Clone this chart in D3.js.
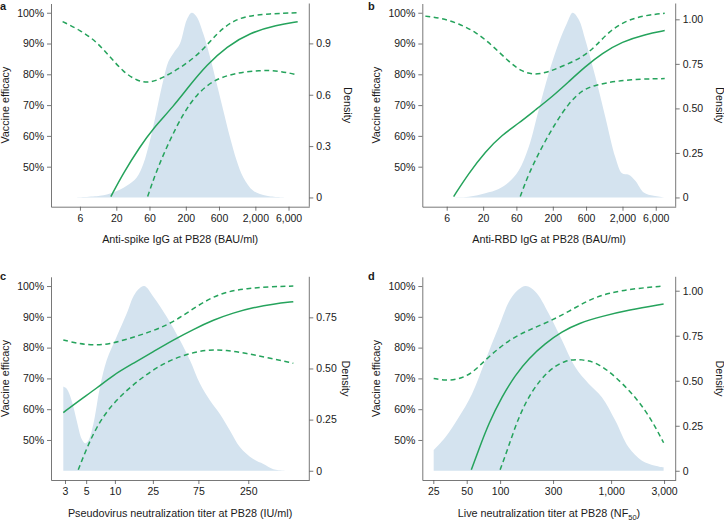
<!DOCTYPE html>
<html><head><meta charset="utf-8">
<script src="https://cdn.jsdelivr.net/npm/d3@7"></script>
<style>
body{margin:0;background:#fff}
text{font-family:"Liberation Sans",Arial,Helvetica,sans-serif;fill:#1a1a1a}
</style>
</head><body>
<svg id="chart" width="724" height="520"></svg>
<script>
// ---------- DATA ----------
// Panel a: anti-spike IgG (BAU/ml) ; efficacy in %
const spikeEst = [[16.7,40.3],[25.2,47.9],[43.8,56.5],[68,62.5],[132,69.5],[229,76.5],[399,83],[774,89],[1675,93.5],[4055,96],[8130,97.1]];
const spikeUpper = [[3.38,97.1],[6,94.4],[10.4,90.6],[16.2,85.7],[25.2,80.8],[39.2,77.9],[61,77.1],[94.8,79],[165,82],[320,86.8],[556,93.3],[964,97.6],[1870,99.5],[8130,100]];
const spikeLower = [[56.5,40.3],[76.2,48.9],[118,58.7],[184,67.3],[286,73.5],[497,78.1],[964,80.3],[2333,81.4],[4530,81.1],[8130,79.8]];
const spikeDensity = [[5.1,0],[11.6,0.01],[18.1,0.029],[28.2,0.068],[39.3,0.117],[48.9,0.195],[61,0.332],[76.2,0.508],[94.8,0.684],[112,0.792],[132,0.841],[165,0.899],[206,1.036],[243,1.079],[286,1.056],[356,0.958],[446,0.821],[556,0.665],[692,0.508],[863,0.352],[1079,0.215],[1343,0.117],[1871,0.039],[2911,0.01],[5649,0]];
const spikeTicks = [6,20,60,200,600,2000,6000];
const spikeDensityTicks = [0,0.3,0.6,0.9];

// Panel b: anti-RBD IgG (BAU/ml)
const rbdEst = [[7.55,40.3],[12.4,47.8],[21.5,54.9],[37.3,60.3],[64.8,64.1],[112,68.4],[195,72.7],[338,77.6],[585,82.5],[1016,86.8],[1968,90.6],[4256,93],[8070,94.2]];
const rbdUpper = [[2.96,98.9],[5.14,98.2],[8.9,96.5],[15.5,93.8],[26.8,89.5],[46.6,84.1],[72.3,80.8],[112,79.8],[175,80.8],[302,83],[525,85.5],[815,89],[1268,93.8],[2198,97.4],[4256,99.2],[8070,99.8]];
const rbdLower = [[68.2,40.3],[90.2,47.8],[140,56.5],[217,64.1],[338,70.6],[525,74.9],[815,76.5],[1578,77.8],[3820,78.5],[8070,78.6]];
const rbdDensity = [[3.9,0],[12.4,0.004],[21.5,0.023],[33.4,0.047],[46.6,0.085],[64.8,0.151],[90.2,0.283],[125,0.49],[175,0.698],[243,0.867],[320,0.98],[386,1.037],[471,0.999],[585,0.886],[815,0.679],[1133,0.452],[1578,0.226],[1968,0.136],[2455,0.128],[3055,0.094],[4036,0.028],[5610,0.009],[7800,0]];
const rbdTicks = [6,20,60,200,600,2000,6000];
const rbdDensityTicks = [0,0.25,0.5,0.75,1];

// Panel c: pseudovirus neutralization titer (IU/ml)
const pseudoEst = [[2.88,58.9],[4.31,63],[6.44,66.8],[9.6,71.1],[15.6,74.9],[25.3,78.7],[41,82.5],[66.4,85.9],[108,89],[174,91.3],[282,93],[458,94.2],[741,94.9]];
const pseudoUpper = [[2.88,82.5],[3.98,81.4],[5.95,80.7],[8.9,81.2],[13.3,82.7],[19.9,84.4],[29.7,86.3],[44.5,89],[66.4,92.7],[99.3,96],[149,98.2],[241,99.2],[423,99.8],[741,100]];
const pseudoLower = [[4.13,40.3],[5.06,47.3],[6.44,54.3],[8.9,60.8],[13.3,66.2],[19.9,70.6],[32.2,74.9],[52.1,77.6],[91.6,79.4],[149,79.2],[241,78.1],[390,76.8],[741,74.9]];
const pseudoDensity = [[2.88,0.412],[3.13,0.401],[3.52,0.344],[3.98,0.245],[4.49,0.155],[4.86,0.134],[5.26,0.147],[5.95,0.229],[6.98,0.409],[8.2,0.54],[10.4,0.654],[13.3,0.769],[16.3,0.867],[20.2,0.903],[25.3,0.851],[34.9,0.753],[48.1,0.638],[61.2,0.54],[78,0.425],[99.3,0.344],[126,0.278],[161,0.196],[205,0.115],[282,0.057],[360,0.033],[458,0.008],[741,0]];
const pseudoTicks = [3,5,10,25,75,250];
const pseudoDensityTicks = [0,0.25,0.5,0.75];

// Panel d: live neutralization titer (NF50)
const liveEst = [[55,40.3],[64.1,46.8],[78.9,55.4],[104,64.1],[137,71.1],[181,76.5],[255,81.4],[361,85.2],[510,87.9],[826,90.2],[1438,92.2],[2972,94.2]];
const liveUpper = [[25.2,70],[32.1,69.3],[42.4,69.7],[55.8,71.6],[73.6,76],[97.1,79.8],[128,83],[181,85.7],[274,88.4],[415,91.7],[628,95.5],[951,97.8],[1652,99.2],[2972,100]];
const liveLower = [[100,40.3],[119,47.8],[147,57.6],[194,66.2],[274,72.7],[386,76],[547,76.3],[773,74.9],[1091,70.6],[1542,65.2],[2032,59.7],[2500,54.3],[2972,49.1]];
const liveDensity = [[25.2,0.115],[32.1,0.186],[42.4,0.297],[55.8,0.427],[73.6,0.613],[97.1,0.799],[128,0.967],[169,1.026],[208,0.994],[274,0.874],[361,0.725],[475,0.576],[628,0.483],[826,0.409],[1091,0.279],[1438,0.13],[1897,0.056],[2500,0.028],[2972,0.019]];
const liveTicks = [25,50,100,300,1000,3000];
const liveDensityTicks = [0,0.25,0.5,0.75,1];

const efficacyTicks = [50,60,70,80,90,100];

// ---------- LAYOUT / STYLE ----------
const GREEN = "#25a35c";
const FILL = "#d4e3ef";
const AXIS = "#555";

const panels = [
  {letter:"a", est:spikeEst, up:spikeUpper, lo:spikeLower, dens:spikeDensity, ticks:spikeTicks, dTicks:spikeDensityTicks,
   dMax:1.079, dFmt:d=>d===0?"0":d3.format(".1f")(d), title:"Anti-spike IgG at PB28 (BAU/ml)",
   left:51, right:309.3, top:3.5, bottom:206.7, xDom:[2.30,11940], letterX:0, letterY:10, yLabX:9, dLabX:343.5},
  {letter:"b", est:rbdEst, up:rbdUpper, lo:rbdLower, dens:rbdDensity, ticks:rbdTicks, dTicks:rbdDensityTicks,
   dMax:1.037, dFmt:d=>d===0?"0":d3.format(".2f")(d), title:"Anti-RBD IgG at PB28 (BAU/ml)",
   left:422.3, right:675.7, top:3.5, bottom:206.7, xDom:[2.68,11600], letterX:368, letterY:10, yLabX:380, dLabX:715.5},
  {letter:"c", est:pseudoEst, up:pseudoUpper, lo:pseudoLower, dens:pseudoDensity, ticks:pseudoTicks, dTicks:pseudoDensityTicks,
   dMax:0.903, dFmt:d=>d===0?"0":d3.format(".2f")(d), title:"Pseudovirus neutralization titer at PB28 (IU/ml)",
   left:51, right:309.3, top:276.8, bottom:480, xDom:[2.14,1090], letterX:0, letterY:280, yLabX:9, dLabX:342},
  {letter:"d", est:liveEst, up:liveUpper, lo:liveLower, dens:liveDensity, ticks:liveTicks, dTicks:liveDensityTicks,
   dMax:1.026, dFmt:d=>d===0?"0":d3.format(".2f")(d), title:null,
   left:422.3, right:675.7, top:276.8, bottom:480, xDom:[19.9,3820], letterX:368, letterY:280, yLabX:380, dLabX:715.5}
];

const svg = d3.select("#chart");
const fmtComma = d3.format(",");

function styleAxis(g){
  g.selectAll("line").attr("stroke",AXIS).attr("stroke-width",0.8);
  g.selectAll("path.domain").attr("stroke",AXIS).attr("stroke-width",0.8);
  g.selectAll("text").attr("font-size","10.5px").style("fill","#1a1a1a")
    .attr("font-family",'"Liberation Sans",Arial,sans-serif');
}

panels.forEach(p=>{
  const x = d3.scaleLog().domain(p.xDom).range([p.left,p.right]);
  const y = d3.scaleLinear().domain([37,103]).range([p.bottom,p.top]);
  const yd = d3.scaleLinear().domain([0,p.dMax]).range([y(40),y(100)]);
  const g = svg.append("g");

  // density area
  g.append("path").datum(p.dens)
    .attr("fill",FILL)
    .attr("d", d3.area().curve(d3.curveCatmullRom.alpha(0.5))
      .x(d=>x(d[0])).y0(yd(0)).y1(d=>Math.min(yd(0), yd(d[1]))));

  const line = d3.line().curve(d3.curveBasis).x(d=>x(d[0])).y(d=>y(d[1]));
  [[p.up,true],[p.lo,true],[p.est,false]].forEach(([data,dash])=>{
    g.append("path").datum(data)
      .attr("fill","none").attr("stroke",GREEN).attr("stroke-width",1.5)
      .attr("stroke-dasharray",dash?"5,3.5":null)
      .attr("d",line);
  });

  // axes
  const ax = g.append("g").attr("transform",`translate(0,${p.bottom})`)
    .call(d3.axisBottom(x).tickValues(p.ticks).tickFormat(fmtComma).tickSize(4).tickSizeOuter(0).tickPadding(4));
  styleAxis(ax);
  const ay = g.append("g").attr("transform",`translate(${p.left},0)`)
    .call(d3.axisLeft(y).tickValues(efficacyTicks).tickFormat(d=>d+"%").tickSize(4).tickSizeOuter(0).tickPadding(3));
  styleAxis(ay);
  const ar = g.append("g").attr("transform",`translate(${p.right},0)`)
    .call(d3.axisRight(yd).tickValues(p.dTicks).tickFormat(p.dFmt).tickSize(4).tickSizeOuter(0).tickPadding(3));
  ar.select("path.domain").remove();
  styleAxis(ar);
  g.append("line").attr("x1",p.right).attr("x2",p.right).attr("y1",p.top).attr("y2",p.bottom)
    .attr("stroke",AXIS).attr("stroke-width",0.8);

  // labels
  const cy = (p.top+p.bottom)/2;
  g.append("text").attr("transform",`translate(${p.yLabX},${cy}) rotate(-90)`)
    .attr("text-anchor","middle").attr("font-size","10.8px").text("Vaccine efficacy");
  g.append("text").attr("transform",`translate(${p.dLabX},${cy}) rotate(90)`)
    .attr("text-anchor","middle").attr("font-size","10.8px").text("Density");
  const t = g.append("text").attr("x",(p.left+p.right)/2).attr("y",p.bottom+36.5)
    .attr("text-anchor","middle").attr("font-size","10.8px");
  if(p.title){ t.text(p.title); }
  else {
    t.append("tspan").text("Live neutralization titer at PB28 (NF");
    t.append("tspan").attr("font-size","7.5px").attr("dy","3").text("50");
    t.append("tspan").attr("dy","-3").text(")");
  }
  g.append("text").attr("x",p.letterX).attr("y",p.letterY)
    .attr("font-size","11px").attr("font-weight","bold").text(p.letter);
});
</script>
</body></html>
